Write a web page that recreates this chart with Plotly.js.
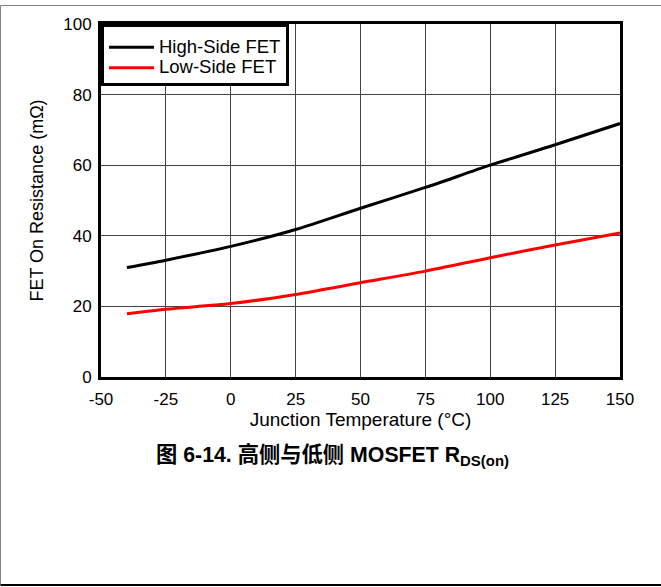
<!DOCTYPE html>
<html>
<head>
<meta charset="utf-8">
<script src="https://cdn.plot.ly/plotly-3.0.1.min.js"></script>
<style>
html,body{margin:0;padding:0;background:#fff;}
#chart{width:661px;height:587px;}
</style>
</head>
<body>
<div id="chart"></div>
<script>
// Data
const temperatureC = [-40, -25, 0, 25, 50, 75, 100, 125, 150];
const highSideFET = [31.0, 33.1, 37.0, 41.8, 47.8, 53.7, 60.0, 65.8, 71.8];
const lowSideFET = [17.9, 19.2, 20.8, 23.4, 26.7, 30.0, 33.8, 37.4, 40.8];
const seriesNames = ['High-Side FET', 'Low-Side FET'];
const xTicks = [-50, -25, 0, 25, 50, 75, 100, 125, 150];
const yTicks = [0, 20, 40, 60, 80, 100];

const FONT = 'Arial, "Liberation Sans", "Noto Sans CJK SC", sans-serif';
const legendName = s => '<span style="font-size:18.5px">' + s + '</span>';

const traces = [
  {x: temperatureC, y: highSideFET, name: legendName(seriesNames[0]), mode: 'lines',
   line: {color: '#000000', width: 3, shape: 'spline', smoothing: 0.8}},
  {x: temperatureC, y: lowSideFET, name: legendName(seriesNames[1]), mode: 'lines',
   line: {color: '#ff0000', width: 3, shape: 'spline', smoothing: 0.8}}
];

const layout = {
  width: 661, height: 587,
  margin: {l: 101, r: 41, t: 24, b: 210, autoexpand: false},
  paper_bgcolor: '#ffffff', plot_bgcolor: '#ffffff',
  font: {family: FONT, color: '#000000', size: 17},
  showlegend: true,
  legend: {x: 0, y: 1, xanchor: 'left', yanchor: 'top',
    bgcolor: '#ffffff', bordercolor: '#000000', borderwidth: 3,
    font: {family: FONT, size: 13.3, color: '#000000'},
    title: {text: '&nbsp;', font: {family: FONT, size: 4, color: '#ffffff'}},
    tracegroupgap: 0, itemwidth: 45},
  xaxis: {
    range: [-50, 150], tickvals: xTicks, ticktext: xTicks.map(String),
    showline: true, mirror: true, linecolor: '#000000', linewidth: 3,
    showgrid: true, gridcolor: '#444444', gridwidth: 1, zeroline: false,
    ticks: '', ticklabelstandoff: 5,
    tickfont: {family: FONT, size: 17, color: '#000000'},
    title: {text: 'Junction Temperature (°C)', font: {family: FONT, size: 19, color: '#000000'}, standoff: 4},
    fixedrange: true
  },
  yaxis: {
    range: [0, 100], tickvals: yTicks, ticktext: yTicks.map(String),
    showline: true, mirror: true, linecolor: '#000000', linewidth: 3,
    showgrid: true, gridcolor: '#444444', gridwidth: 1, zeroline: false,
    ticks: '', ticklabelstandoff: 3,
    tickfont: {family: FONT, size: 17, color: '#000000'},
    title: {text: 'FET On Resistance (mΩ)', font: {family: FONT, size: 18, color: '#000000'}, standoff: 15},
    fixedrange: true
  },
  annotations: [{
    xref: 'paper', yref: 'paper', x: 0.447, y: -0.221, xanchor: 'center', yanchor: 'middle',
    showarrow: false,
    text: '<b>图 6-14. 高侧与低侧 MOSFET R<sub>DS(on)</sub></b>',
    font: {family: FONT, size: 21.3, color: '#000000'}
  }],
  shapes: [
    {type: 'line', xref: 'paper', yref: 'paper', x0: -0.1936, x1: 1.1, y0: 1.0524, y1: 1.0524, line: {color: '#808080', width: 1}},
    {type: 'line', xref: 'paper', yref: 'paper', x0: -0.1936, x1: -0.1936, y0: 1.0524, y1: -0.589, line: {color: '#808080', width: 1}},
    {type: 'line', xref: 'paper', yref: 'paper', x0: -0.1936, x1: 1.1, y0: -0.589, y1: -0.589, line: {color: '#000000', width: 2}}
  ]
};

Plotly.newPlot('chart', traces, layout, {staticPlot: true, displayModeBar: false});
</script>
</body>
</html>
